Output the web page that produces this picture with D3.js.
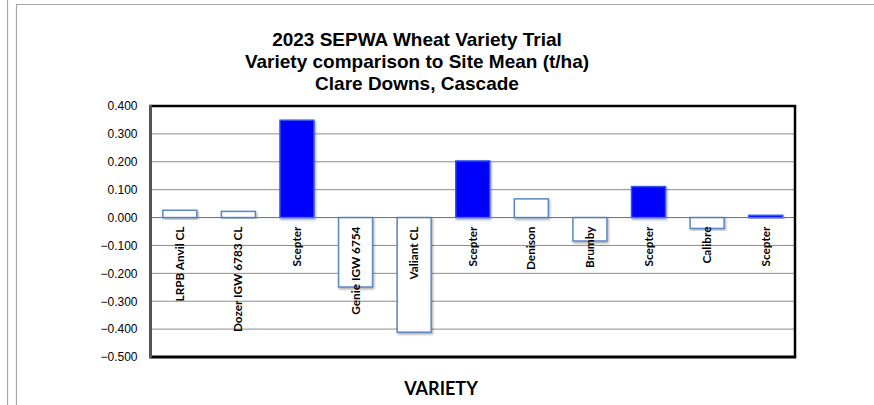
<!DOCTYPE html>
<html>
<head>
<meta charset="utf-8">
<script src="https://cdn.jsdelivr.net/npm/d3@7"></script>
<style>
  html, body { margin: 0; padding: 0; background: #fff; }
  svg { display: block; }
</style>
</head>
<body>
<div id="chart"></div>
<script>
// Données
const varieties = ["LRPB Anvil CL", "Dozer IGW 6783 CL", "Scepter", "Genie IGW 6754", "Valiant CL",
                   "Scepter", "Denison", "Brumby", "Scepter", "Calibre", "Scepter"];
const diffToMean = [0.026, 0.022, 0.349, -0.249, -0.411, 0.203, 0.067, -0.084, 0.111, -0.039, 0.008];
const yTicks = [0.4, 0.3, 0.2, 0.1, 0, -0.1, -0.2, -0.3, -0.4, -0.5];
const titleLines = ["2023 SEPWA Wheat Variety Trial", "Variety comparison to Site Mean (t/ha)", "Clare Downs, Cascade"];

const W = 874, H = 405;
const plot = { left: 150.5, right: 795, top: 106, bottom: 357 };

const svg = d3.select("#chart").append("svg")
    .attr("width", W)
    .attr("height", H);

// ombre légère des barres
const defs = svg.append("defs");
defs.append("filter").attr("id", "shadow")
    .attr("x", "-20%").attr("y", "-20%").attr("width", "140%").attr("height", "140%")
    .append("feDropShadow")
    .attr("dx", 1).attr("dy", 1.5).attr("stdDeviation", 0.8)
    .attr("flood-color", "#000").attr("flood-opacity", 0.35);

// Cadres extérieurs
svg.append("line").attr("x1", 7.5).attr("x2", 7.5).attr("y1", 0).attr("y2", H)
    .attr("stroke", "#a6a6a6").attr("stroke-width", 1.2);
svg.append("line").attr("x1", 16.5).attr("x2", 16.5).attr("y1", 4).attr("y2", H)
    .attr("stroke", "#a6a6a6").attr("stroke-width", 1.2);
svg.append("line").attr("x1", 16).attr("x2", W).attr("y1", 4.5).attr("y2", 4.5)
    .attr("stroke", "#a6a6a6").attr("stroke-width", 1.2);

// Titre
svg.append("g").selectAll("text")
    .data(titleLines)
    .enter().append("text")
    .attr("x", 417)
    .attr("y", (d, i) => 45.5 + i * 22.3)
    .attr("text-anchor", "middle")
    .style("font-family", "'Liberation Sans', Arial, sans-serif")
    .style("font-weight", "bold")
    .style("font-size", "19px")
    .text(d => d);

// Échelles
const x = d3.scaleBand()
    .domain(d3.range(varieties.length))
    .range([plot.left, plot.right])
    .paddingInner(0.42)
    .paddingOuter(0.21);

const y = d3.scaleLinear()
    .domain([-0.5, 0.4])
    .range([plot.bottom, plot.top]);

// Grille
svg.append("g").selectAll("line")
    .data(yTicks)
    .enter().append("line")
    .attr("x1", plot.left).attr("x2", plot.right)
    .attr("y1", d => y(d)).attr("y2", d => y(d))
    .attr("stroke", "#8c8c8c")
    .attr("stroke-width", 1);

// Axe Y
const yAxis = svg.append("g")
    .attr("transform", `translate(${plot.left},0)`)
    .call(d3.axisLeft(y).tickValues(yTicks).tickFormat(d3.format(".3f")).tickSize(0).tickPadding(13));
yAxis.select(".domain").remove();
yAxis.selectAll("text")
    .style("font-family", "'Liberation Sans', Arial, sans-serif")
    .style("font-size", "12px")
    .attr("fill", "#000");

// Barres
svg.append("g").selectAll("rect")
    .data(diffToMean)
    .enter().append("rect")
    .attr("x", (d, i) => x(i))
    .attr("width", x.bandwidth())
    .attr("y", d => y(Math.max(0, d)))
    .attr("height", d => Math.abs(y(d) - y(0)))
    .attr("fill", (d, i) => varieties[i] === "Scepter" ? "#0000ff" : "#ffffff")
    .attr("stroke", (d, i) => varieties[i] === "Scepter" ? "#3355ee" : "#5b87c5")
    .attr("stroke-width", 1.5)
    .attr("filter", "url(#shadow)");

// Ligne zéro
svg.append("line")
    .attr("x1", plot.left).attr("x2", plot.right)
    .attr("y1", y(0)).attr("y2", y(0))
    .attr("stroke", "#4a7ebb")
    .attr("stroke-width", 1);

// Étiquettes des variétés
svg.append("g").selectAll("text")
    .data(varieties)
    .enter().append("text")
    .attr("transform", (d, i) => `translate(${x(i) + x.bandwidth() / 2 + 4},${y(0) + 9}) rotate(-90)`)
    .attr("text-anchor", "end")
    .style("font-family", "Lato, 'Open Sans', sans-serif")
    .style("font-weight", "bold")
    .style("font-size", "11.8px")
    .text(d => d);

// Cadre de la zone de tracé
svg.append("line").attr("x1", plot.left).attr("x2", plot.right + 1.2)
    .attr("y1", plot.top).attr("y2", plot.top)
    .attr("stroke", "#000").attr("stroke-width", 2.5);
svg.append("line").attr("x1", plot.right).attr("x2", plot.right)
    .attr("y1", plot.top).attr("y2", plot.bottom)
    .attr("stroke", "#000").attr("stroke-width", 2.5);
svg.append("line").attr("x1", plot.left).attr("x2", plot.right + 1.2)
    .attr("y1", plot.bottom).attr("y2", plot.bottom)
    .attr("stroke", "#000").attr("stroke-width", 3);
svg.append("line").attr("x1", plot.left).attr("x2", plot.left)
    .attr("y1", plot.top - 1.2).attr("y2", plot.bottom + 1.5)
    .attr("stroke", "#555").attr("stroke-width", 3);

// Titre de l'axe X
svg.append("text")
    .attr("x", 441)
    .attr("y", 395)
    .attr("text-anchor", "middle")
    .style("font-family", "Lato, 'Open Sans', sans-serif")
    .style("font-weight", "bold")
    .style("font-size", "18px")
    .text("VARIETY");
</script>
</body>
</html>
